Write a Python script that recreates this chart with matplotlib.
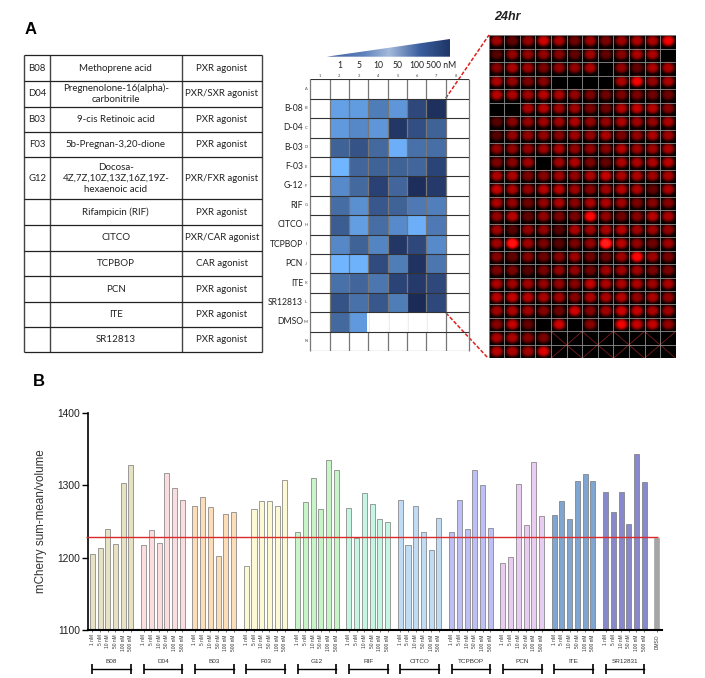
from matplotlib import pyplot as plt
from matplotlib.colors import LinearSegmentedColormap
from matplotlib.patches import Polygon
import numpy as np

W, H = 705, 678

# panel A table
wells = ['B08', 'D04', 'B03', 'F03', 'G12', '', '', '', '', '', '']
compounds = ['Methoprene acid', 'Pregnenolone-16(alpha)-\ncarbonitrile', '9-cis Retinoic acid',
             '5b-Pregnan-3,20-dione', 'Docosa-\n4Z,7Z,10Z,13Z,16Z,19Z-\nhexaenoic acid', 'Rifampicin (RIF)',
             'CITCO', 'TCPBOP', 'PCN', 'ITE', 'SR12813']
classes = ['PXR agonist', 'PXR/SXR agonist', 'PXR agonist', 'PXR agonist', 'PXR/FXR agonist', 'PXR agonist',
           'PXR/CAR agonist', 'CAR agonist', 'PXR agonist', 'PXR agonist', 'PXR agonist']

# panel A plate map (0 = lightest blue, 1 = darkest)
plate_rows = ['B-08', 'D-04', 'B-03', 'F-03', 'G-12', 'RIF', 'CITCO', 'TCPBOP', 'PCN', 'ITE', 'SR12813', 'DMSO']
plate_doses = ['1', '5', '10', '50', '100', '500 nM']
plate_letters = list('ABCDEFGHIJKLMN')
plate_levels = [
    [.15, .18, .38, .22, .72, .95],
    [.20, .32, .22, .88, .68, .55],
    [.55, .65, .50, .05, .45, .47],
    [.00, .52, .55, .55, .52, .75],
    [.30, .50, .78, .52, .97, .85],
    [.48, .27, .62, .55, .40, .37],
    [.58, .17, .48, .30, .05, .40],
    [.32, .55, .33, .88, .72, .30],
    [.00, .02, .70, .38, .93, .42],
    [.45, .52, .42, .75, .85, .72],
    [.65, .45, .62, .38, 1.0, .72],
    [.50, .20, np.nan, np.nan, np.nan, np.nan],
]

# panel A spheroid brightness, 24 rows x 12 wells
spheroids = [
    [.65, .40, .60, .85, .70, .45, .65, .50, .65, .70, .70, 1.0],
    [.35, .60, .60, .60, .55, .40, .65, .40, .55, .70, .70, 0],
    [.55, .70, .65, .50, .60, .60, .70, 0, .60, .40, .70, .70],
    [.70, .60, .50, .55, 0, 0, 0, 0, .70, 1.0, .60, .70],
    [.75, .70, .65, .75, .70, .60, .50, .45, .50, .50, .45, .45],
    [0, 0, .70, .75, .65, .65, .50, .45, .75, .80, .75, .55],
    [.35, .55, .60, .65, .65, .70, .60, .60, .70, .65, .60, .70],
    [.35, .60, .60, .60, .55, .65, .60, .70, .50, .60, .70, .65],
    [.60, .60, .60, .65, .70, .60, .60, .55, .75, .65, .65, .70],
    [.50, .55, .65, 0, .65, .70, .50, .40, .70, .70, .70, .75],
    [.70, .70, .50, .55, .65, .60, .70, .80, .70, .70, .65, .70],
    [.80, .70, .60, .75, .75, .65, .55, .65, .75, .70, .40, .70],
    [.70, .60, .45, .60, .70, .55, .70, .70, .65, .50, .55, .55],
    [.60, .75, .40, .60, .50, .50, 1.1, .60, .45, .55, .75, .70],
    [.65, .35, .60, .60, .35, .70, .65, .70, .75, .65, .65, .60],
    [.65, 1.3, .65, .50, .35, .50, .60, 1.5, .75, .60, .45, .65],
    [.55, .40, .55, .45, .55, .65, .45, .45, .65, 1.1, .65, .50],
    [.50, .50, .35, .50, .60, .60, .45, .65, .65, .65, .50, .50],
    [.70, .65, .65, .60, .60, .55, .80, .70, .70, .70, .65, .70],
    [.75, .80, .75, .70, .65, .55, .70, .70, .75, .60, .70, .60],
    [.65, .70, .65, .55, .45, .85, .55, .65, .85, .80, .70, .65],
    [.55, .80, .40, 0, .85, 0, .55, 0, 1.0, .80, .80, .60],
    [.70, .70, .55, .50, 0, 0, 0, 0, 0, 0, 0, 0],
    [.75, .70, .65, .90, 0, 0, 0, 0, 0, 0, 0, 0],
]

# panel B
groups = ['B08', 'D04', 'B03', 'F03', 'G12', 'RIF', 'CITCO', 'TCPBOP', 'PCN', 'ITE', 'SR12831']
doses = ['1 nM', '5 nM', '10 nM', '50 nM', '100 nM', '500 nM']
values = [
    [1205, 1213, 1239, 1219.5, 1303, 1328],
    [1217, 1238, 1220, 1317, 1297, 1280],
    [1271, 1284, 1270, 1202, 1260, 1263],
    [1188, 1267, 1278, 1278, 1271, 1307],
    [1235, 1277, 1310, 1267, 1335, 1321],
    [1268, 1227, 1290, 1274, 1254, 1250],
    [1280, 1217, 1271, 1235, 1211, 1255],
    [1236, 1280, 1239, 1321, 1300, 1241],
    [1193, 1201.5, 1302, 1245, 1332, 1258],
    [1259, 1278, 1254, 1306, 1315, 1306],
    [1291, 1263, 1291, 1247, 1343, 1305],
]
dmso = 1227.5
colors = ['#E8E2C4', '#FBDDE0', '#FBDDB8', '#FDF9D5', '#C8F5C8', '#C5F5E3',
          '#C0DCF5', '#BFBFF7', '#E8CCF2', '#7FA6D0', '#8888CC']


def px_axes(fig, left, top, right, bottom):
    return fig.add_axes([left / W, 1 - bottom / H, (right - left) / W, (bottom - top) / H])


plt.rcParams['font.family'] = ['Lato', 'DejaVu Sans']
fig = plt.figure(figsize=(W / 100, H / 100), dpi=100)

# whole figure in pixels, y going down
page = fig.add_axes([0, 0, 1, 1])
page.set_xlim(0, W)
page.set_ylim(H, 0)
page.axis('off')
page.set_autoscale_on(False)

page.text(25, 30, 'A', fontsize=12, fontweight='bold', family='Liberation Sans', va='center')
page.text(33, 382, 'B', fontsize=12, fontweight='bold', family='Liberation Sans', va='center')

# table
col_x = [24.3, 50, 181.7, 261.7]
row_y = [55.3, 81.3, 106.7, 132, 157.3, 199.3, 225.3, 250.7, 276.3, 301.7, 327.3, 352.3]
page.vlines(col_x, row_y[0], row_y[-1], color='#444444', lw=1)
page.hlines(row_y, col_x[0], col_x[-1], color='#222222', lw=0.9)
for i in range(len(compounds)):
    yc = (row_y[i] + row_y[i + 1]) / 2
    page.text((col_x[0] + col_x[1]) / 2, yc, wells[i], ha='center', va='center', fontsize=6.9, color='#222222')
    page.text((col_x[1] + col_x[2]) / 2, yc, compounds[i], ha='center', va='center', fontsize=7,
              color='#222222', linespacing=1.25)
    page.text((col_x[2] + col_x[3]) / 2, yc, classes[i], ha='center', va='center', fontsize=6.9, color='#222222')

# dose wedge
wedge_cmap = LinearSegmentedColormap.from_list('wedge', [(0, '#3D5F9E'), (0.3, '#5F82BC'), (0.5, '#A4BADB'),
                                                         (0.75, '#3A5E9E'), (1, '#1E3566')])
wedge = page.imshow(np.linspace(0, 1, 256).reshape(1, -1), extent=(326.7, 450, 56.7, 39), cmap=wedge_cmap,
                    aspect='auto', zorder=2)
wedge.set_clip_path(Polygon([(326.7, 56.7), (450, 39), (450, 56.7)], transform=page.transData))

# plate map
plate_left, plate_top, cell = 310.3, 79.3, 19.4
plate = px_axes(fig, plate_left, plate_top, 469, 351)
x_edges = np.append(np.arange(8), 8.2)
y_edges = np.arange(15)
grid = np.full((14, 8), np.nan)
grid[1:13, 1:7] = plate_levels
plate_cmap = LinearSegmentedColormap.from_list('plate', ['#70B5FF', '#5C92D4', '#44699F', '#2B4478', '#1B2B58'])
plate.pcolormesh(x_edges, y_edges, np.ma.masked_invalid(grid), cmap=plate_cmap, vmin=0, vmax=1)
plate.set_xlim(0, 8.2)
plate.set_ylim(14, 0)
plate.axis('off')
for c in range(1, 8):
    plate.vlines(c, 0, 14, color='#777777', lw=0.9, zorder=3)
plate.vlines([3, 4, 5, 6], 12, 13, color='white', lw=1.4, zorder=3)
plate.hlines(np.arange(15), 0, 8.2, color='#333333', lw=0.8, zorder=4)
plate.vlines([0, 8.2], 0, 14, color='#777777', lw=0.9, clip_on=False, zorder=3)

for i, name in enumerate(plate_rows):
    page.text(303, plate_top + cell * (i + 1.5), name, ha='right', va='center', fontsize=6.2, color='#222222')
for i, letter in enumerate(plate_letters):
    page.text(306, plate_top + cell * (i + 0.5), letter, ha='center', va='center', fontsize=3, color='#444444')
for c in range(8):
    page.text(plate_left + cell * (c + 0.5), 75.7, str(c + 1), ha='center', va='center', fontsize=3, color='#444444')
for c, dose in enumerate(plate_doses):
    xc = plate_left + cell * (c + 1.5) if dose != '500 nM' else 441
    page.text(xc, 65.7, dose, ha='center', va='center', fontsize=6.2, color='#222222')

# spheroid montage
n_row, n_col = np.shape(spheroids)
cell_x, cell_y = 16, 14
yy, xx = np.mgrid[0:cell_y, 0:cell_x]
rr = np.sqrt(((xx + 0.5) / cell_x - 0.5) ** 2 + ((yy + 0.5) / cell_y - 0.5) ** 2)
blob = np.exp(-(rr / 0.40) ** 4)
glow = np.kron(np.array(spheroids), blob)
rgb = np.zeros(glow.shape + (3,))
rgb[..., 0] = np.clip(glow * 0.98, 0, 1)
rgb[..., 1] = np.clip((glow - 1.0) * 0.25, 0, 1)
rgb[..., 2] = np.clip((glow - 1.0) * 0.25, 0, 1)

img_l, img_t, img_r, img_b = 488.7, 35.3, 675.7, 358.3
montage = px_axes(fig, img_l, img_t, img_r, img_b)
montage.imshow(rgb, extent=(0, n_col, n_row, 0), aspect='auto', interpolation='bilinear')
montage.axis('off')
for k in range(4, 12, 2):
    montage.plot([k, k + 2], [22, 24], color='#7A1A1A', lw=0.6)
    montage.plot([k, k + 2], [24, 22], color='#7A1A1A', lw=0.6)
montage.vlines(np.arange(n_col + 1), 0, n_row, color='#8E8E8E', lw=0.6)
montage.hlines(np.arange(n_row + 1), 0, n_col, color='#8E8E8E', lw=0.6)
montage.set_xlim(0, n_col)
montage.set_ylim(n_row, 0)

page.text(494, 17, '24hr', fontsize=9, fontweight='bold', style='italic', family='Liberation Sans',
          va='center', color='#222222')
page.plot([445.7, 489], [98.3, 35], color='#E0201C', lw=1.1, ls=(0, (2.5, 1.2)), zorder=5)
page.plot([446, 488], [313, 358], color='#E0201C', lw=1.1, ls=(0, (2.5, 1.2)), zorder=5)

# bar chart
ax = px_axes(fig, 87.5, 413, 662, 630)
step = 6.64
xticks, xlabels = [], []
for i, name in enumerate(groups):
    x = i * step + np.arange(len(doses))
    ax.bar(x, values[i], width=0.65, color=colors[i], edgecolor='#777777', linewidth=0.5)
    xticks.extend(x)
    xlabels.extend(doses)
    ax.plot([x[0], x[-1]], [-0.18, -0.18], color='black', lw=1, transform=ax.get_xaxis_transform(), clip_on=False)
    ax.vlines([x[0], x[-1]], -0.203, -0.157, color='black', lw=1.2, transform=ax.get_xaxis_transform(), clip_on=False)
    ax.text(x.mean(), -0.147, name, ha='center', va='center', fontsize=4.6, color='#333333',
            family='Liberation Sans', transform=ax.get_xaxis_transform())

dmso_x = len(groups) * step
ax.bar(dmso_x, dmso, width=0.65, color='#A5A5A5', edgecolor='#A5A5A5', linewidth=0.5)
xticks.append(dmso_x)
xlabels.append('DMSO')
ax.hlines(1228, -0.85, 73.2, color='#D92B2B', lw=1, clip_on=False, zorder=5)

ax.set_xlim(-0.62, 73.7)
ax.set_ylim(1100, 1400)
ax.set_yticks([1100, 1200, 1300, 1400])
ax.set_xticks(xticks)
ax.set_xticklabels(xlabels, rotation=90, fontsize=3.5, family='Liberation Sans', color='#333333')
ax.tick_params(axis='x', length=1.5, width=0.4, pad=1.5)
ax.tick_params(axis='y', length=4, width=1, pad=1.5, labelsize=7.4, labelcolor='#222222')
for label in ax.get_yticklabels():
    label.set_family('Liberation Sans')
ax.set_ylabel('mCherry sum-mean/volume', fontsize=8.4, family='Liberation Sans', color='#333333', labelpad=7)
ax.patch.set_alpha(0)
ax.spines['top'].set_visible(False)
ax.spines['right'].set_visible(False)
ax.spines['left'].set_linewidth(1.2)
ax.spines['bottom'].set_linewidth(1.5)

fig.savefig('out.png', dpi=100)
